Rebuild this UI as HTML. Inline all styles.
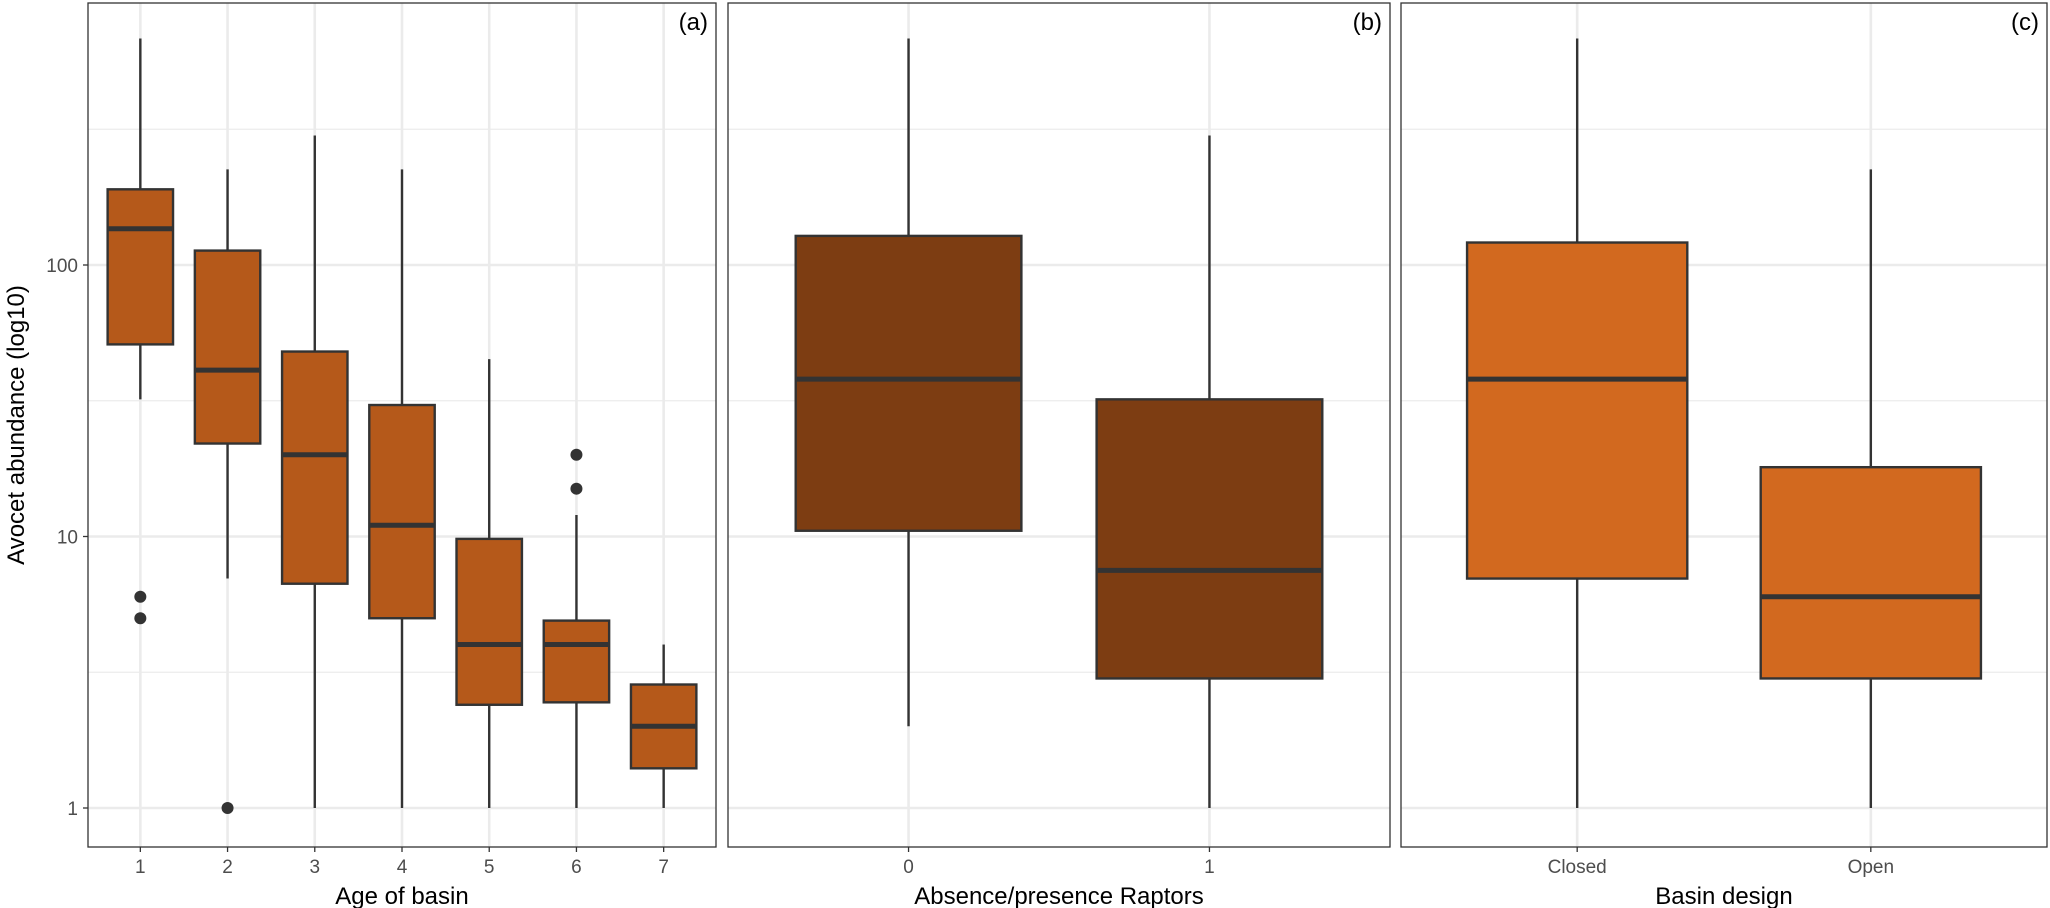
<!DOCTYPE html>
<html><head><meta charset="utf-8"><style>
body{margin:0;background:#fff;}
svg{display:block;font-family:"Liberation Sans",Arial,sans-serif;}
</style></head><body>
<svg id="chart" width="2050" height="908" viewBox="0 0 2050 908" xmlns="http://www.w3.org/2000/svg">
<text transform="translate(24,425) rotate(-90)" text-anchor="middle" font-size="24" fill="#000">Avocet abundance (log10)</text>
</svg>
<script>
// Panel (a): Age of basin
const catsA = ["1","2","3","4","5","6","7"];
const lowA = [32, 7, 1, 1, 1, 1, 1];
const q1A = [51, 22, 6.7, 5, 2.4, 2.45, 1.4];
const medA = [136, 41, 20, 11, 4, 4, 2];
const q3A = [190, 113, 48, 30.5, 9.8, 4.9, 2.85];
const highA = [683, 225, 300, 225, 45, 12, 4];
const outA = [[6,5],[1],[],[],[],[20,15],[]];
// Panel (b): Raptors
const catsB = ["0","1"];
const lowB = [2, 1];
const q1B = [10.5, 3];
const medB = [38, 7.5];
const q3B = [128, 32];
const highB = [683, 300];
const outB = [[],[]];
// Panel (c): Basin design
const catsC = ["Closed","Open"];
const lowC = [1, 1];
const q1C = [7, 3];
const medC = [38, 6];
const q3C = [121, 18];
const highC = [683, 225];
const outC = [[],[]];
const yTicks = [1, 10, 100];
const yTickLabels = ["1","10","100"];

const svg = document.getElementById('chart');
const NS = "http://www.w3.org/2000/svg";
const top0 = 3, bot0 = 847;
function y(v){ return 808 - Math.log10(v) * 271.5; }
function mk(tag, attrs){ const e = document.createElementNS(NS, tag); for (const k in attrs) e.setAttribute(k, attrs[k]); svg.appendChild(e); return e; }

function panel(key, left, right, cats, low, q1, med, q3, high, outs, color, widthFrac, label, title, showY){
  const n = cats.length;
  const step = (right - left) / (n + 0.2);
  function x(i){ return left + step * (i + 0.6); }
  const g = mk('g', {});
  
  
  const minors = [Math.sqrt(10), Math.sqrt(1000), Math.sqrt(100000)];
  minors.forEach(v => {
    const l = mk('line', {x1:left, x2:right, y1:y(v), y2:y(v), stroke:'#ebebeb', 'stroke-width':1.3});
    
    
  });
  yTicks.forEach((v, j) => {
    const l = mk('line', {x1:left, x2:right, y1:y(v), y2:y(v), stroke:'#ebebeb', 'stroke-width':2.6});
    
    
    if (showY) {
      const t = mk('text', {x:left - 10, y:y(v) + 7, 'text-anchor':'end', 'font-size':19, fill:'#4d4d4d'});
      t.textContent = yTickLabels[j];
      
      
      const tk = mk('line', {x1:left - 5, x2:left, y1:y(v), y2:y(v), stroke:'#333', 'stroke-width':1.3});
      
      
    }
  });
  for (let i = 0; i < n; i++) {
    const l = mk('line', {x1:x(i), x2:x(i), y1:top0, y2:bot0, stroke:'#ebebeb', 'stroke-width':2.6});
    
    
  }
  const bw = step * widthFrac;
  for (let i = 0; i < n; i++) {
    const cx = x(i);
    const w1 = mk('line', {x1:cx, x2:cx, y1:y(high[i]), y2:y(q3[i]), stroke:'#333', 'stroke-width':2.4});
    
    
    const w2 = mk('line', {x1:cx, x2:cx, y1:y(q1[i]), y2:y(low[i]), stroke:'#333', 'stroke-width':2.4});
    
    
    const r = mk('rect', {x:cx - bw/2, y:y(q3[i]), width:bw, height:y(q1[i]) - y(q3[i]), fill:color, stroke:'#333', 'stroke-width':2.4});
    
    
    const m = mk('line', {x1:cx - bw/2, x2:cx + bw/2, y1:y(med[i]), y2:y(med[i]), stroke:'#333', 'stroke-width':5});
    
    
    outs[i].forEach(v => {
      const c = mk('circle', {cx:cx, cy:y(v), r:6, fill:'#333'});
      
      
    });
    const tk = mk('line', {x1:cx, x2:cx, y1:bot0, y2:bot0 + 5, stroke:'#333', 'stroke-width':1.3});
    
    
    const t = mk('text', {x:cx, y:bot0 + 26, 'text-anchor':'middle', 'font-size':19, fill:'#4d4d4d'});
    t.textContent = cats[i];
    
    
  }
  const fr = mk('rect', {x:left, y:top0, width:right - left, height:bot0 - top0, fill:'none', stroke:'#333', 'stroke-width':1.3});
  
  
  const pl = mk('text', {x:right - 8, y:30, 'text-anchor':'end', 'font-size':24, fill:'#000'});
  pl.textContent = label;
  
  
  const xt = mk('text', {x:(left + right)/2, y:904, 'text-anchor':'middle', 'font-size':24, fill:'#000'});
  xt.textContent = title;
  
  
}
panel('a', 88, 716, catsA, lowA, q1A, medA, q3A, highA, outA, '#B5591A', 0.75, '(a)', 'Age of basin', true);
panel('b', 728, 1390, catsB, lowB, q1B, medB, q3B, highB, outB, '#7D3D12', 0.75, '(b)', 'Absence/presence Raptors', false);
panel('c', 1401, 2047, catsC, lowC, q1C, medC, q3C, highC, outC, '#D2691F', 0.75, '(c)', 'Basin design', false);
</script>
</body></html>
